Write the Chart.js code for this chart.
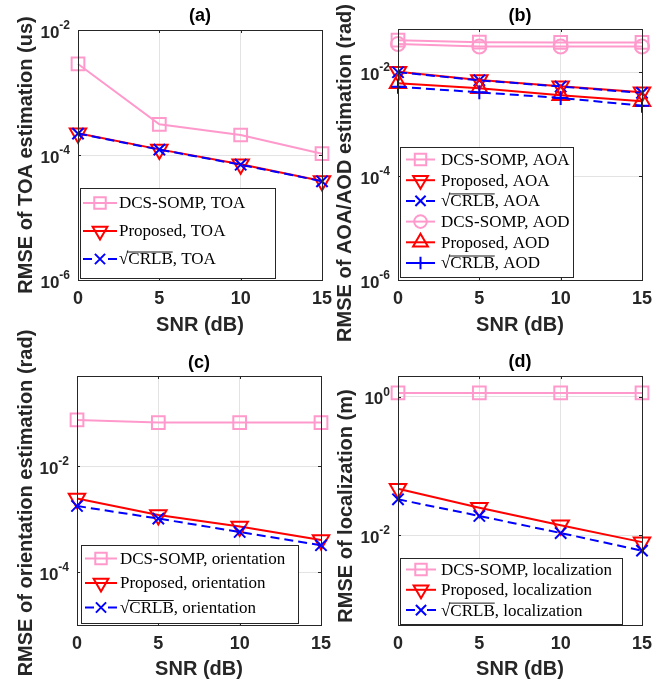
<!DOCTYPE html>
<html>
<head>
<meta charset="utf-8">
<script src="https://cdn.jsdelivr.net/npm/chart.js@4.4.1/dist/chart.umd.min.js"></script>
<style>
  body { margin: 0; background: #fff; }
  canvas { position: absolute; left: 0; top: 0; }
</style>
</head>
<body>
<canvas id="chartA" width="672" height="688"></canvas>
<canvas id="chartB" width="672" height="688"></canvas>
<canvas id="chartC" width="672" height="688"></canvas>
<canvas id="chartD" width="672" height="688"></canvas>
<script>
// x axis: SNR (dB)
const snrLabels = ['0', '5', '10', '15'];

// (a) TOA
const toaDcsSomp = [2.86e-3, 3.1e-4, 2.09e-4, 1.05e-4];
const toaProposed = [2.22e-4, 1.23e-4, 7.1e-5, 3.84e-5];
const toaCrlb = [2.2e-4, 1.22e-4, 7.0e-5, 3.8e-5];
const toaTicks = [1e-6, 1e-4, 1e-2];

// (b) AOA / AOD
const aoaDcsSomp = [0.0415, 0.038, 0.0375, 0.0375];
const aoaProposed = [0.0102, 7.1e-3, 5.4e-3, 4.1e-3];
const aoaCrlb = [0.0100, 7.0e-3, 5.3e-3, 4.0e-3];
const aodDcsSomp = [0.0348, 0.0312, 0.0312, 0.0312];
const aodProposed = [6.15e-3, 4.9e-3, 3.6e-3, 2.75e-3];
const aodCrlb = [5.26e-3, 4.1e-3, 3.2e-3, 2.27e-3];
const angleTicks = [1e-6, 1e-4, 1e-2];

// (c) orientation
const oriDcsSomp = [0.074, 0.066, 0.066, 0.066];
const oriProposed = [2.43e-3, 1.19e-3, 7.2e-4, 4.0e-4];
const oriCrlb = [1.76e-3, 1.02e-3, 5.7e-4, 3.2e-4];
const oriTicks = [1e-4, 1e-2];

// (d) localization
const locDcsSomp = [1.14, 1.14, 1.14, 1.14];
const locProposed = [0.0468, 0.0249, 0.0139, 7.9e-3];
const locCrlb = [0.0329, 0.0189, 0.0107, 5.95e-3];
const locTicks = [1e-2, 1];

const PINK = 'rgb(255,153,204)';
const RED = 'rgb(255,0,0)';
const BLUE = 'rgb(0,0,255)';
const INK = '#262626';
const SANS = '"Liberation Sans", Arial, Helvetica, sans-serif';
const SERIF = '"Liberation Serif", "Times New Roman", serif';

const styles = {
    square: { color: PINK, dash: [], point: 'rect', rotation: 0, radius: 9 },
    circle: { color: PINK, dash: [], point: 'circle', rotation: 0, radius: 7 },
    down:   { color: RED, dash: [], point: 'triangle', rotation: 180, radius: 9.5 },
    up:     { color: RED, dash: [], point: 'triangle', rotation: 0, radius: 9.5 },
    cross:  { color: BLUE, dash: [9, 5], point: 'crossRot', rotation: 0, radius: 8 },
    plus:   { color: BLUE, dash: [9, 5], point: 'cross', rotation: 0, radius: 7 },
};

function series(label, data, style, order) {
    return {
        label,
        data,
        order,
        borderColor: style.color,
        backgroundColor: 'transparent',
        borderWidth: 2,
        borderDash: style.dash,
        pointStyle: style.point,
        pointRotation: style.rotation,
        pointRadius: style.radius,
        pointHoverRadius: style.radius,
        pointBorderWidth: 2,
        pointBorderColor: style.color,
        pointBackgroundColor: 'rgba(0,0,0,0)',
        tension: 0,
        clip: false,
        _style: style,
    };
}

// Legend text, with a bar over CRLB
function drawLegendText(ctx, text, x, y, size) {
    ctx.fillText(text, x, y);
    if (text.startsWith('√CRLB')) {
        const w0 = ctx.measureText('√').width;
        const w1 = ctx.measureText('CRLB').width;
        const top = y - size * 0.47;
        ctx.save();
        ctx.strokeStyle = '#000';
        ctx.lineWidth = 0.9;
        ctx.beginPath();
        ctx.moveTo(x + w0 - 1.5, top);
        ctx.lineTo(x + w0 + w1, top);
        ctx.stroke();
        ctx.restore();
    }
}

// Axes box, inward ticks, 10^n tick labels, y label, panel title and legend
const panelDecor = {
    id: 'panelDecor',
    afterDatasetsDraw(chart, args, opts) {
        const ctx = chart.ctx;
        const area = chart.chartArea;
        const yScale = chart.scales.y;
        const xScale = chart.scales.x;
        ctx.save();

        // box
        ctx.strokeStyle = INK;
        ctx.lineWidth = 1;
        ctx.strokeRect(Math.round(area.left) + 0.5, Math.round(area.top) + 0.5,
            Math.round(area.right - area.left), Math.round(area.bottom - area.top));

        // inward ticks
        ctx.beginPath();
        yScale.ticks.forEach((t) => {
            const py = Math.round(yScale.getPixelForValue(t.value)) + 0.5;
            ctx.moveTo(area.left, py); ctx.lineTo(area.left + 3, py);
            ctx.moveTo(area.right, py); ctx.lineTo(area.right - 3, py);
        });
        xScale.ticks.forEach((t, i) => {
            const px = Math.round(xScale.getPixelForTick(i)) + 0.5;
            ctx.moveTo(px, area.bottom); ctx.lineTo(px, area.bottom - 3);
            ctx.moveTo(px, area.top); ctx.lineTo(px, area.top + 3);
        });
        ctx.stroke();

        // y tick labels as 10^n
        ctx.fillStyle = INK;
        ctx.textBaseline = 'alphabetic';
        ctx.textAlign = 'left';
        yScale.ticks.forEach((t) => {
            const py = yScale.getPixelForValue(t.value);
            const exp = String(Math.round(Math.log10(t.value)));
            ctx.font = `bold 12px ${SANS}`;
            const wSup = ctx.measureText(exp).width;
            ctx.font = `bold 17px ${SANS}`;
            const wBase = ctx.measureText('10').width;
            const right = area.left - 8;
            ctx.fillText('10', right - wSup - wBase, py + 7.5);
            ctx.font = `bold 12px ${SANS}`;
            ctx.fillText(exp, right - wSup, py - 1);
        });

        // y label
        ctx.save();
        ctx.translate(opts.yTitleX, opts.yTitleY);
        ctx.rotate(-Math.PI / 2);
        ctx.font = `bold 20px ${SANS}`;
        ctx.textAlign = 'center';
        ctx.textBaseline = 'middle';
        ctx.fillStyle = INK;
        ctx.fillText(opts.yTitle, 0, 0);
        ctx.restore();

        // panel title
        ctx.font = `bold 18px ${SANS}`;
        ctx.textAlign = 'center';
        ctx.textBaseline = 'middle';
        ctx.fillStyle = '#000';
        ctx.fillText(opts.title, (area.left + area.right) / 2, opts.titleY);

        // legend
        const lg = opts.legend;
        ctx.fillStyle = '#fff';
        ctx.fillRect(lg.left, lg.top, lg.width, lg.height);
        ctx.strokeStyle = INK;
        ctx.lineWidth = 1;
        ctx.strokeRect(lg.left + 0.5, lg.top + 0.5, lg.width, lg.height);
        ctx.font = `${lg.font}px ${SERIF}`;
        ctx.textAlign = 'left';
        ctx.textBaseline = 'middle';
        chart.data.datasets.forEach((ds, i) => {
            const st = ds._style;
            const y = lg.top + lg.first + i * lg.gap;
            const x0 = lg.left + lg.lineFrom;
            const x1 = lg.left + lg.lineTo;
            ctx.save();
            ctx.strokeStyle = st.color;
            ctx.fillStyle = 'rgba(0,0,0,0)';
            ctx.lineWidth = 2;
            ctx.beginPath();
            if (st.dash.length) {
                // one dash each side of the marker
                ctx.moveTo(x0, y); ctx.lineTo(x0 + 9, y);
                ctx.moveTo(x1 - 9, y); ctx.lineTo(x1, y);
            } else {
                ctx.moveTo(x0, y); ctx.lineTo(x1, y);
            }
            ctx.stroke();
            Chart.helpers.drawPoint(ctx, {
                pointStyle: st.point, rotation: st.rotation, radius: st.radius * 0.9, borderWidth: 2,
            }, (x0 + x1) / 2, y);
            ctx.restore();
            ctx.fillStyle = '#000';
            drawLegendText(ctx, ds.label, lg.left + lg.textX, y + 1, lg.font);
        });
        ctx.restore();
    },
};

function makeChart(id, datasets, yTicks, frame) {
    const p = frame.plot;
    return new Chart(document.getElementById(id), {
        type: 'line',
        data: { labels: snrLabels, datasets },
        plugins: [panelDecor],
        options: {
            responsive: false,
            animation: false,
            events: [],
            layout: {
                padding: {
                    left: p.left - frame.yWidth,
                    top: p.top,
                    right: 672 - p.right,
                    bottom: 688 - (p.bottom + frame.xHeight),
                },
            },
            plugins: {
                legend: { display: false },
                tooltip: { enabled: false },
                panelDecor: {
                    title: frame.title, titleY: frame.titleY, legend: frame.legend,
                    yTitle: frame.yTitle, yTitleX: frame.yTitleX, yTitleY: frame.yTitleY,
                },
            },
            scales: {
                x: {
                    type: 'category',
                    offset: false,
                    grid: { color: '#e3e3e3', drawTicks: false },
                    border: { display: false },
                    ticks: { color: INK, font: { family: SANS, size: 18, weight: 'bold' }, padding: 8, maxRotation: 0 },
                    title: {
                        display: true, text: 'SNR (dB)', color: INK,
                        font: { family: SANS, size: 20, weight: 'bold', lineHeight: 1.2 },
                        padding: { top: 0, bottom: 7 },
                    },
                    afterFit: (scale) => { scale.height = frame.xHeight; },
                },
                y: {
                    type: 'logarithmic',
                    min: frame.yMin,
                    max: frame.yMax,
                    grid: { color: '#e3e3e3', drawTicks: false },
                    border: { display: false },
                    ticks: { display: false },
                    afterBuildTicks: (scale) => { scale.ticks = yTicks.map((v) => ({ value: v, major: true })); },
                    afterFit: (scale) => { scale.width = frame.yWidth; },
                },
            },
        },
    });
}

makeChart('chartA', [
    series('DCS-SOMP, TOA', toaDcsSomp, styles.square, 3),
    series('Proposed, TOA', toaProposed, styles.down, 2),
    series('√CRLB, TOA', toaCrlb, styles.cross, 1),
], toaTicks, {
    title: '(a)', titleY: 16,
    plot: { left: 78, top: 30, right: 322, bottom: 280 }, yWidth: 78, xHeight: 64,
    yMin: 1e-6, yMax: 1e-2,
    yTitle: 'RMSE of TOA estimation (us)', yTitleX: 26, yTitleY: 155,
    legend: { left: 80, top: 188, width: 195, height: 90, first: 15, gap: 28, lineFrom: 3, lineTo: 37, textX: 39, font: 17 },
});

makeChart('chartB', [
    series('DCS-SOMP, AOA', aoaDcsSomp, styles.square, 6),
    series('Proposed, AOA', aoaProposed, styles.down, 5),
    series('√CRLB, AOA', aoaCrlb, styles.cross, 4),
    series('DCS-SOMP, AOD', aodDcsSomp, styles.circle, 3),
    series('Proposed, AOD', aodProposed, styles.up, 2),
    series('√CRLB, AOD', aodCrlb, styles.plus, 1),
], angleTicks, {
    title: '(b)', titleY: 16,
    plot: { left: 398, top: 29, right: 642, bottom: 280 }, yWidth: 62, xHeight: 64,
    yMin: 1e-6, yMax: 0.068,
    yTitle: 'RMSE of AOA/AOD estimation (rad)', yTitleX: 345, yTitleY: 173,
    legend: { left: 400, top: 147, width: 173, height: 130, first: 12.5, gap: 20.7, lineFrom: 6, lineTo: 35, textX: 41, font: 17 },
});

makeChart('chartC', [
    series('DCS-SOMP, orientation', oriDcsSomp, styles.square, 3),
    series('Proposed, orientation', oriProposed, styles.down, 2),
    series('√CRLB, orientation', oriCrlb, styles.cross, 1),
], oriTicks, {
    title: '(c)', titleY: 363,
    plot: { left: 77, top: 376, right: 321, bottom: 625 }, yWidth: 77, xHeight: 63,
    yMin: 1e-5, yMax: 0.5,
    yTitle: 'RMSE of orientation estimation (rad)', yTitleX: 26, yTitleY: 503,
    legend: { left: 81, top: 545, width: 217, height: 78, first: 13.5, gap: 24.5, lineFrom: 4, lineTo: 36, textX: 39, font: 17 },
});

makeChart('chartD', [
    series('DCS-SOMP, localization', locDcsSomp, styles.square, 3),
    series('Proposed, localization', locProposed, styles.down, 2),
    series('√CRLB, localization', locCrlb, styles.cross, 1),
], locTicks, {
    title: '(d)', titleY: 362,
    plot: { left: 398, top: 376, right: 642, bottom: 625 }, yWidth: 62, xHeight: 63,
    yMin: 5e-4, yMax: 2,
    yTitle: 'RMSE of localization (m)', yTitleX: 346, yTitleY: 506,
    legend: { left: 400, top: 558, width: 222, height: 66, first: 11.5, gap: 20.3, lineFrom: 6, lineTo: 36, textX: 41, font: 17 },
});
</script>
</body>
</html>
